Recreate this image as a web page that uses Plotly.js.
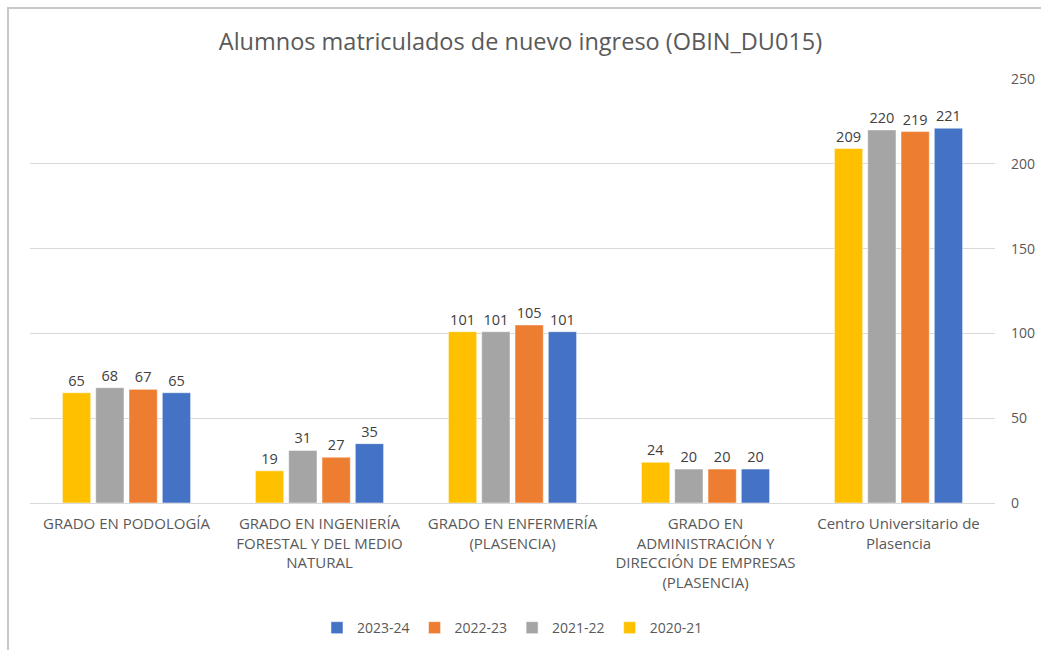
<!DOCTYPE html>
<html>
<head>
<meta charset="utf-8">
<script src="https://cdn.plot.ly/plotly-3.0.1.min.js"></script>
<style>
html,body{margin:0;padding:0;background:#fff;}
#wrap{position:relative;width:1041px;height:650px;overflow:hidden;}
#chart{width:1041px;height:650px;}
#frame{position:absolute;left:7px;top:7px;width:1100px;height:700px;border-left:2px solid #C8C8C8;border-top:2px solid #C8C8C8;pointer-events:none;}
</style>
</head>
<body>
<div id="wrap"><div id="chart"></div><div id="frame"></div></div>
<script>
const categories = [
  "GRADO EN PODOLOGÍA",
  "GRADO EN INGENIERÍA<br>FORESTAL Y DEL MEDIO<br>NATURAL",
  "GRADO EN ENFERMERÍA<br>(PLASENCIA)",
  "GRADO EN<br>ADMINISTRACIÓN Y<br>DIRECCIÓN DE EMPRESAS<br>(PLASENCIA)",
  "Centro Universitario de<br>Plasencia"
];
const seriesNames = ["2020-21", "2021-22", "2022-23", "2023-24"];
const v2020 = [65, 19, 101, 24, 209];
const v2021 = [68, 31, 101, 20, 220];
const v2022 = [67, 27, 105, 20, 219];
const v2023 = [65, 35, 101, 20, 221];
const yTicks = [0, 50, 100, 150, 200, 250];

const colors = ["#FFC000", "#A5A5A5", "#ED7D31", "#4472C4"];
const values = [v2020, v2021, v2022, v2023];
const font = "'Open Sans', 'Noto Sans', sans-serif";

const traces = values.map((v, i) => ({
  type: "bar",
  name: seriesNames[i],
  x: categories,
  y: v,
  marker: {color: colors[i], line: {color: "#ffffff", width: 0.5}},
  text: v.map(String),
  textposition: "outside",
  textfont: {family: font, size: 14.5, color: "#404040"},
  cliponaxis: false,
  hoverinfo: "x+y+name"
}));

const layout = {
  width: 1041, height: 650,
  margin: {l: 30, r: 46, t: 79, b: 147, autoexpand: false},
  paper_bgcolor: "#ffffff",
  plot_bgcolor: "#ffffff",
  title: {text: "Alumnos matriculados de nuevo ingreso (OBIN_DU015)",
          font: {family: font, size: 23.5, color: "#595959"},
          x: 0.5, xanchor: "center", y: 0.935, yanchor: "middle"},
  barmode: "group",
  bargap: 0.31,
  bargroupgap: 0.15,
  xaxis: {
    tickfont: {family: font, size: 15, color: "#595959"},
    showgrid: false, showline: false, zeroline: false, ticks: "", automargin: false,
    tickangle: 0, ticklabelstandoff: 10
  },
  yaxis: {
    side: "right",
    range: [0, 250],
    tickvals: yTicks,
    ticktext: yTicks.map(String),
    tickfont: {family: font, size: 14, color: "#595959"},
    gridcolor: "#D9D9D9", gridwidth: 1,
    zeroline: true, zerolinecolor: "#D9D9D9", zerolinewidth: 1,
    showline: false, ticks: "", ticklabelstandoff: 15, automargin: false
  },
  showlegend: true,
  legend: {
    orientation: "h", traceorder: "reversed",
    x: 0.5, xanchor: "center", y: -0.295, yanchor: "middle",
    font: {family: font, size: 14, color: "#595959"},
    itemwidth: 30
  }
};

Plotly.newPlot("chart", traces, layout, {displayModeBar: false, staticPlot: true});
</script>
</body>
</html>
